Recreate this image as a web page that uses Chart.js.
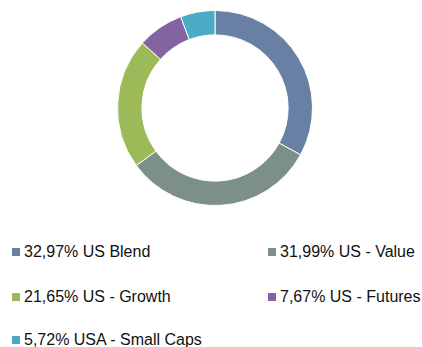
<!DOCTYPE html>
<html>
<head>
<meta charset="utf-8">
<script src="https://cdn.jsdelivr.net/npm/chart.js@4"></script>
<style>
    html, body { margin: 0; padding: 0; background: #fff; }
    body { width: 422px; height: 347px; position: relative; overflow: hidden; font-family: "Liberation Sans", Arial, sans-serif; }
    #chartBox { position: absolute; left: 0; top: 10px; width: 430px; height: 196px; }
    .legend-item { position: absolute; font-size: 16px; color: #111; white-space: nowrap; line-height: 18px; }
    .legend-item span.box { display: inline-block; width: 8px; height: 8px; margin-right: 4px; vertical-align: 1px; }
</style>
</head>
<body>
<div id="chartBox"><canvas id="donut"></canvas></div>
<div id="legend"></div>
<script>
// Data alokasi
const labels = ['US Blend', 'US - Value', 'US - Growth', 'US - Futures', 'USA - Small Caps'];
const values = [32.97, 31.99, 21.65, 7.67, 5.72];
const colors = ['#6780a4', '#7c9089', '#9cbb58', '#8264a2', '#4aabc6'];

// Posisi legend (kolom kiri / kanan, tiga baris)
const legendCols = [12, 268];
const legendRows = [243, 288, 331];

const ctx = document.getElementById('donut').getContext('2d');
new Chart(ctx, {
    type: 'doughnut',
    data: {
        labels: labels,
        datasets: [{
            data: values,
            backgroundColor: colors,
            borderColor: '#ffffff',
            borderWidth: 1
        }]
    },
    options: {
        responsive: true,
        maintainAspectRatio: false,
        animation: false,
        cutout: '75%',
        plugins: {
            legend: { display: false },
            tooltip: { enabled: false }
        }
    }
});

// Legend HTML dari array yang sama
const legendEl = document.getElementById('legend');
labels.forEach((label, i) => {
    const item = document.createElement('div');
    item.className = 'legend-item';
    item.style.left = legendCols[i % 2] + 'px';
    item.style.top = legendRows[Math.floor(i / 2)] + 'px';
    const txt = values[i].toFixed(2).replace('.', ',') + '% ' + label;
    item.innerHTML = `<span class="box" style="background:${colors[i]}"></span>${txt}`;
    legendEl.appendChild(item);
});
</script>
</body>
</html>
